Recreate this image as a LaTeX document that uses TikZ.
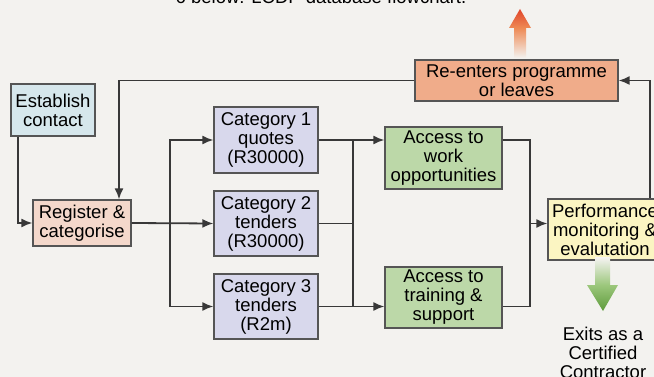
\documentclass[tikz,border=0pt]{standalone}
\usepackage{fontspec}
\setmainfont{Liberation Sans}
\usetikzlibrary{arrows.meta}

\definecolor{paper}{HTML}{F3F2EF}
\definecolor{boxline}{HTML}{555555}
\definecolor{linkgray}{HTML}{383838}
\definecolor{estblue}{HTML}{D6E7EC}
\definecolor{regpink}{HTML}{F4D8CB}
\definecolor{catlilac}{HTML}{D8D8EC}
\definecolor{accgreen}{HTML}{BCD8A8}
\definecolor{perfyellow}{HTML}{FBF5C2}
\definecolor{reorange}{HTML}{F0AC8A}
\definecolor{upred}{HTML}{E0452A}
\definecolor{uporange}{HTML}{EE8A55}
\definecolor{downgreen}{HTML}{5E9B3C}
\definecolor{midgreen}{HTML}{9CC77C}

\tikzset{
  box/.style={draw=boxline, line width=1.2pt, align=center, inner sep=0pt,
    font=\fontsize{18.5}{19}\selectfont},
  plain/.style={align=center, inner sep=0pt, font=\fontsize{18.5}{19}\selectfont},
  link/.style={draw=linkgray, line width=1.8pt},
  arr/.style={link, -{Latex[length=11pt,width=9pt]}},
}

\begin{document}
\begin{tikzpicture}[x=1pt,y=-1pt]

        \fill[paper] (0,0) rectangle (654,377);
        \useasboundingbox (0,0) rectangle (654,377);
        \clip (0,0) rectangle (654,377);

        \node[plain, anchor=base] (cap) at (321,4) {6 below: LCDP database flowchart.};

        \node[box, fill=estblue, minimum width=84pt, minimum height=52pt] (est) at (53,110) {Establish\\contact};
        \node[box, fill=regpink, minimum width=98pt, minimum height=46pt] (reg) at (82,223) {Register \&\\categorise};

        \node[box, fill=catlilac, minimum width=104pt, minimum height=66pt] (cat1) at (266,140) {Category 1\\quotes\\(R30000)};
        \node[box, fill=catlilac, minimum width=104pt, minimum height=65pt] (cat2) at (266,223.5) {Category 2\\tenders\\(R30000)};
        \node[box, fill=catlilac, minimum width=104pt, minimum height=65pt] (cat3) at (266,306.5) {Category 3\\tenders\\(R2m)};

        \node[box, fill=accgreen, minimum width=117pt, minimum height=62pt] (work) at (443.5,158) {Access to\\work\\opportunities};
        \node[box, fill=accgreen, minimum width=117pt, minimum height=61pt] (train) at (443.5,297.5) {Access to\\training \&\\support};

        \node[box, fill=perfyellow, minimum width=114pt, minimum height=61pt] (perf) at (605,229.5) {Performance\\monitoring \&\\evalutation};
        \node[box, fill=reorange, minimum width=203pt, minimum height=41pt] (reenter) at (516.5,80.5) {Re-enters programme\\or leaves};

        \node[plain] (exit) at (603,353) {Exits as a\\Certified\\Contractor};

        % up / down arrows
        \shade[top color=upred, bottom color=uporange] (520,9) -- (531,28) -- (509,28) -- cycle;
        \shade[top color=uporange, bottom color=paper] (514,28) rectangle (526,58);
        \shade[top color=paper, bottom color=midgreen] (595,258) rectangle (610,285);
        \shade[top color=midgreen, bottom color=downgreen] (587,285) -- (618,285) -- (603,311) -- cycle;

        \coordinate (ex) at (18,0);
        \coordinate (rx) at (119,0);
        \coordinate (s1) at (170,0);
        \coordinate (s2) at (353,0);
        \coordinate (s3) at (530,0);
        \coordinate (s4) at (650,0);

        \draw[arr] (ex |- est.south) |- (reg.west);
        \draw[arr] (reenter.west) -| (rx |- reg.north);

        \draw[arr] (reg.east) -- (cat2.west);
        \draw[arr] (s1 |- reg.east) |- (cat1.west);
        \draw[arr] (s1 |- reg.east) |- (cat3.west);

        \draw[arr] (cat1.east) -- (work.west |- cat1.east);
        \draw[arr] (cat3.east) -- (train.west |- cat3.east);
        \draw[link] (cat2.east) -- (s2 |- cat2.east);
        \draw[link] (s2 |- cat1.east) -- (s2 |- cat3.east);

        \draw[link] (work.east |- cat1.east) -| (s3 |- cat2.east);
        \draw[link] (train.east |- cat3.east) -| (s3 |- cat2.east);
        \draw[arr] (s3 |- cat2.east) -- (perf.west |- cat2.east);

        \draw[arr] (s4 |- perf.north) |- (reenter.east);

      \end{tikzpicture}
\end{document}
